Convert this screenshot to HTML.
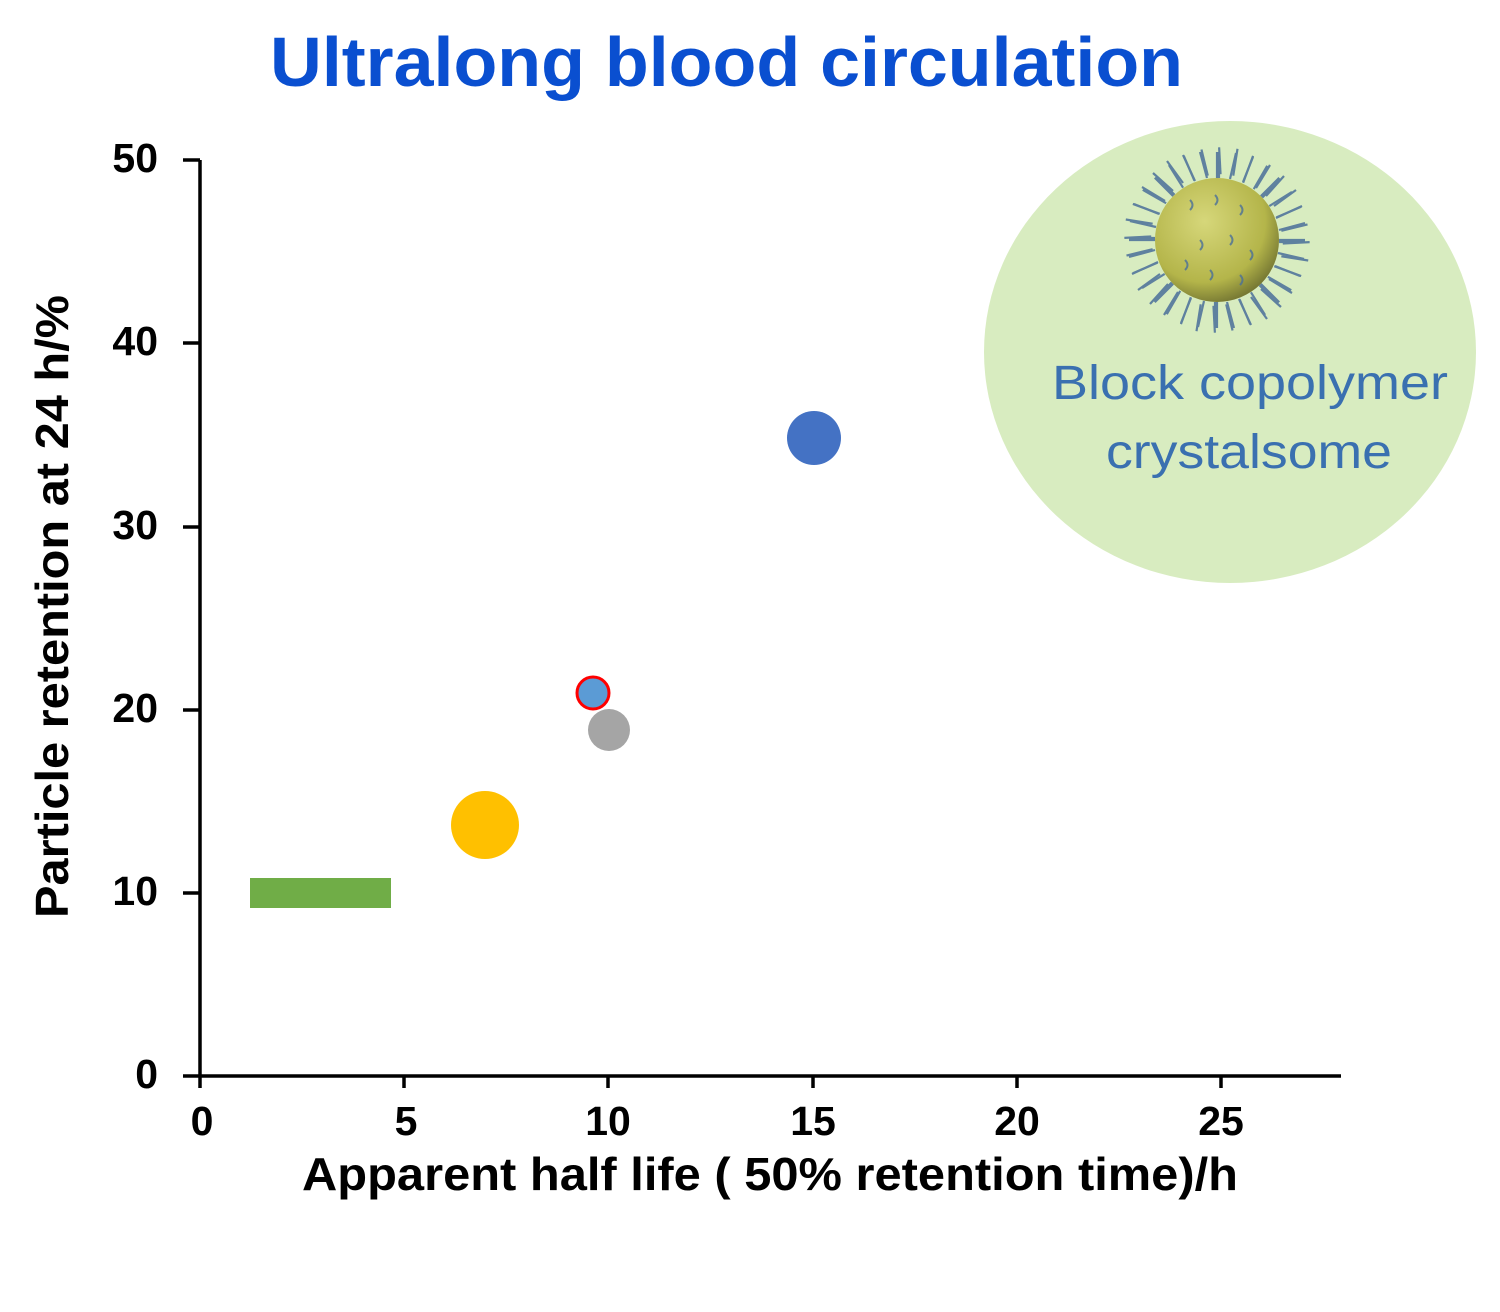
<!DOCTYPE html>
<html><head><style>body{margin:0;background:#fff}</style></head><body>
<svg width="1500" height="1312" xmlns="http://www.w3.org/2000/svg" style="display:block">
<defs>
<radialGradient id="g" cx="0.4" cy="0.35" r="0.7"><stop offset="0" stop-color="#d6d77a"/><stop offset="0.7" stop-color="#b4b54a"/><stop offset="1" stop-color="#6e7030"/></radialGradient>
</defs>
<text x="270" y="86" textLength="913" lengthAdjust="spacingAndGlyphs" font-family="Liberation Sans, sans-serif" font-weight="bold" font-size="70" fill="#0a4fd0">Ultralong blood circulation</text>
<ellipse cx="1230" cy="352" rx="246" ry="231" fill="#d8ecc0"/>
<g stroke="#4a6f9a" stroke-width="2.2" opacity="0.85">
<g id="h">
<line x1="1217" y1="178" x2="1217" y2="152"/><line x1="1230" y1="179" x2="1236" y2="153"/><line x1="1243" y1="182" x2="1253" y2="157"/><line x1="1256" y1="188" x2="1270" y2="165"/><line x1="1266" y1="196" x2="1284" y2="176"/><line x1="1274" y1="206" x2="1296" y2="190"/><line x1="1276" y1="218" x2="1302" y2="206"/><line x1="1279" y1="230" x2="1305" y2="223"/><line x1="1279" y1="242" x2="1305" y2="242"/>
</g>
<use href="#h" transform="rotate(90 1217 240)"/><use href="#h" transform="rotate(180 1217 240)"/><use href="#h" transform="rotate(270 1217 240)"/>
<use href="#h" transform="rotate(45 1217 240)"/><use href="#h" transform="rotate(135 1217 240)"/><use href="#h" transform="rotate(225 1217 240)"/><use href="#h" transform="rotate(315 1217 240)"/>
</g>
<circle cx="1217" cy="240" r="62" fill="url(#g)"/>
<g stroke="#4a6f9a" stroke-width="2" fill="none" opacity="0.8">
<path d="M1190 200q5 5 0 10M1215 195q5 5 0 10M1240 205q5 5 0 10M1200 240q5 5 0 10M1230 235q5 5 0 10M1250 250q5 5 0 10M1210 270q5 5 0 10M1185 260q5 5 0 10M1240 275q5 5 0 10"/>
</g>
<text x="1052" y="399" textLength="396" lengthAdjust="spacingAndGlyphs" font-family="Liberation Sans, sans-serif" font-size="48" fill="#3a70b0">Block copolymer</text>
<text x="1106" y="468" textLength="286" lengthAdjust="spacingAndGlyphs" font-family="Liberation Sans, sans-serif" font-size="48" fill="#3a70b0">crystalsome</text>
<g stroke="#000" stroke-width="3.5">
<line x1="200" y1="160" x2="200" y2="1088"/><line x1="183" y1="1076" x2="1341" y2="1076"/>
<line x1="183" y1="160" x2="200" y2="160"/><line x1="183" y1="343" x2="200" y2="343"/><line x1="183" y1="527" x2="200" y2="527"/><line x1="183" y1="710" x2="200" y2="710"/><line x1="183" y1="893" x2="200" y2="893"/>
<line x1="404" y1="1076" x2="404" y2="1088"/><line x1="608" y1="1076" x2="608" y2="1088"/><line x1="813" y1="1076" x2="813" y2="1088"/><line x1="1017" y1="1076" x2="1017" y2="1088"/><line x1="1221" y1="1076" x2="1221" y2="1088"/>
</g>
<g font-family="Liberation Sans, sans-serif" font-weight="bold" font-size="41" fill="#000">
<g text-anchor="end"><text x="158" y="172">50</text><text x="158" y="355">40</text><text x="158" y="539">30</text><text x="158" y="722">20</text><text x="158" y="905">10</text><text x="158" y="1088">0</text></g>
<g text-anchor="middle"><text x="202" y="1135">0</text><text x="406" y="1135">5</text><text x="608" y="1135">10</text><text x="813" y="1135">15</text><text x="1017" y="1135">20</text><text x="1221" y="1135">25</text></g>
<text x="302" y="1190" textLength="936" lengthAdjust="spacingAndGlyphs" font-size="46">Apparent half life ( 50% retention time)/h</text>
<text transform="translate(68 918) rotate(-90)" textLength="623" lengthAdjust="spacingAndGlyphs" font-size="46">Particle retention at 24 h/%</text>
</g>
<rect x="250" y="878" width="141" height="30" fill="#70ad47"/>
<circle cx="485" cy="825" r="34" fill="#ffc000"/>
<circle cx="609" cy="730" r="21" fill="#a5a5a5"/>
<circle cx="593" cy="693" r="16" fill="#5b9bd5" stroke="#ff0000" stroke-width="3"/>
<circle cx="814" cy="438" r="27" fill="#4472c4"/>
</svg>
</body></html>
